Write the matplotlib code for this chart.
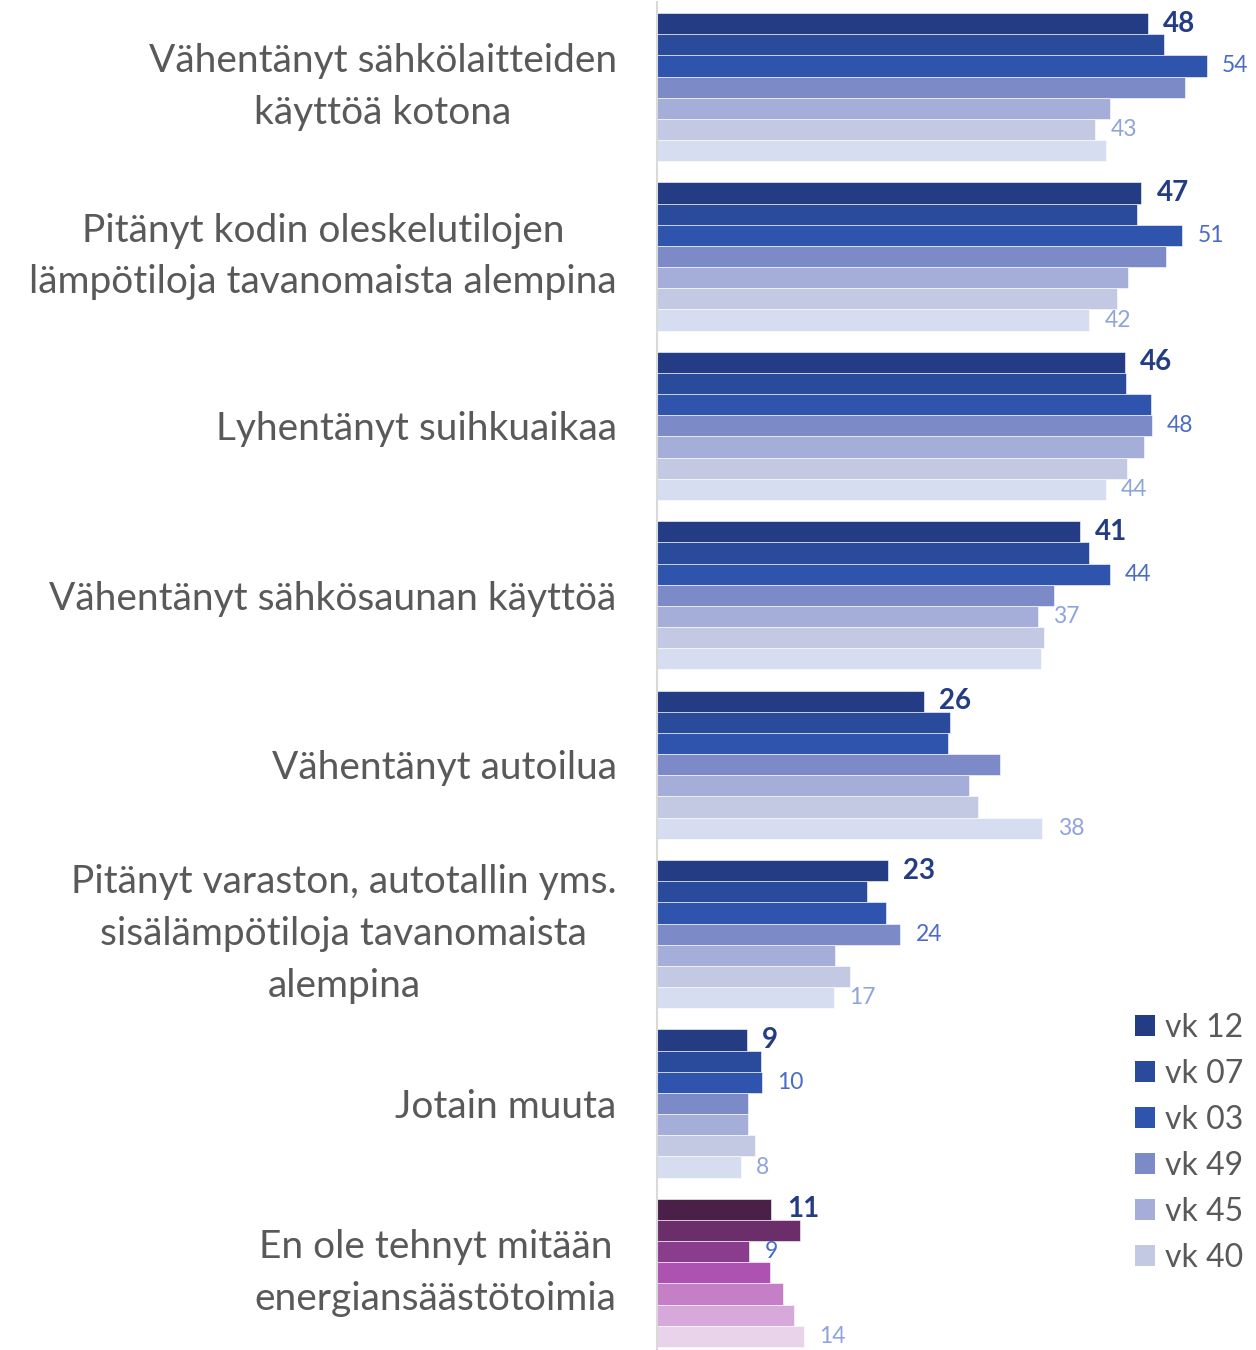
import numpy as np
import matplotlib.pyplot as plt
from matplotlib.patches import Patch

plt.rcParams['font.family'] = ['Lato', 'DejaVu Sans']

categories = ["Vähentänyt sähkölaitteiden\nkäyttöä kotona",
              "Pitänyt kodin oleskelutilojen\nlämpötiloja tavanomaista alempina",
              "Lyhentänyt suihkuaikaa",
              "Vähentänyt sähkösaunan käyttöä",
              "Vähentänyt autoilua",
              "Pitänyt varaston, autotallin yms.\nsisälämpötiloja tavanomaista\nalempina",
              "Jotain muuta",
              "En ole tehnyt mitään\nenergiansäästötoimia"]

series = ["vk 12", "vk 07", "vk 03", "vk 49", "vk 45", "vk 40", "vk 36"]

# rows = categories, columns = series (top bar first)
values = np.array([
    [48.0, 49.6, 53.8, 51.7, 44.3, 42.9, 43.9],
    [47.4, 47.0, 51.4, 49.8, 46.1, 45.0, 42.3],
    [45.8, 45.9, 48.3, 48.4, 47.7, 46.0, 43.9],
    [41.4, 42.3, 44.3, 38.8, 37.3, 37.9, 37.6],
    [26.1, 28.7, 28.5, 33.6, 30.5, 31.4, 37.7],
    [22.6, 20.5, 22.4, 23.8, 17.4, 18.9, 17.3],
    [8.8, 10.2, 10.3, 8.9, 8.9, 9.6, 8.2],
    [11.2, 14.0, 9.0, 11.1, 12.3, 13.4, 14.4],
])

# which bars carry a data label (first, second, third label in each group)
label_bars = [[0, 2, 5], [0, 2, 6], [0, 3, 6], [0, 2, 4],
              [0, 6], [0, 3, 6], [0, 2, 6], [0, 2, 6]]

blues = ["#233c84", "#2a4a9c", "#2f54ae", "#7c8bc8", "#a5aed8", "#c3c8e3", "#d6ddf1"]
purples = ["#4a2048", "#6b2e6b", "#8b3d8d", "#ad52b0", "#c47fc6", "#d7a9da", "#e9d3ea"]
label_colors = ["#233c84", "#4a6bc8", "#8fa3dc"]

W, H = 1256, 1350
fig = plt.figure(figsize=(W / 100, H / 100), dpi=100)
x0 = 657
ax = fig.add_axes([x0 / W, (H - 1357.6) / H, (W - x0) / W, 1355.2 / H])

n_cat = len(categories)
n_ser = len(series)
bh = 1 / 8
for i in range(n_cat):
    cols = purples if i == n_cat - 1 else blues
    for j in range(n_ser):
        y = i + (j - (n_ser - 1) / 2) * bh
        ax.barh(y, values[i, j], height=bh, color=cols[j],
                edgecolor="white", linewidth=0.4)
    for k, j in enumerate(label_bars[i]):
        y = i + (j - (n_ser - 1) / 2) * bh
        c = label_colors[0] if k == 0 else (label_colors[1] if j < 4 else label_colors[2])
        ax.annotate(f"{values[i, j]:.0f}", (values[i, j], y), xytext=(11, 0),
                    textcoords="offset points", ha="left", va="center",
                    fontsize=20 if k == 0 else 16.5, color=c,
                    fontweight="bold" if k == 0 else "normal")

ax.set_xlim(0, (W - x0) / 10.22)
ax.set_ylim(n_cat - 0.5, -0.5)
ax.set_xticks([])
ax.set_yticks(range(n_cat))
ax.set_yticklabels(categories, fontsize=28, color="#595959",
                   multialignment="center", linespacing=1.55)
for t in ax.get_yticklabels():
    if "\n" in t.get_text():
        t.set_verticalalignment("center")
ax.tick_params(axis="y", length=0, pad=29)
for s in ["top", "right", "bottom"]:
    ax.spines[s].set_visible(False)
ax.spines["left"].set_color("#d9d9d9")
ax.spines["left"].set_linewidth(1.5)

handles = [Patch(facecolor=blues[j], label=series[j]) for j in range(6)]
fig.legend(handles=handles, loc="upper left", bbox_to_anchor=(1135 / W, 1 - 1013 / H),
           frameon=False, fontsize=23, labelcolor="#595959", handlelength=0.62,
           handleheight=0.62, handletextpad=0.33, labelspacing=0.5,
           borderpad=0, borderaxespad=0)

fig.savefig("out.png", dpi=100)
